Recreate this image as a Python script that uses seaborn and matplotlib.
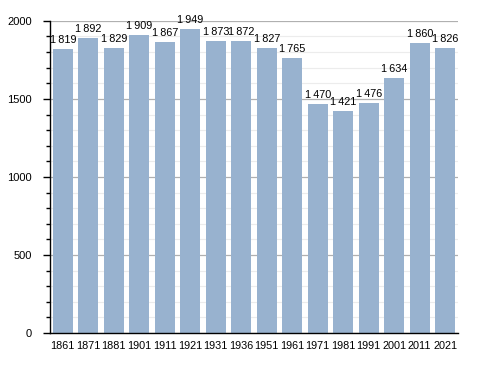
import matplotlib
matplotlib.use('Agg')
import matplotlib.pyplot as plt
from matplotlib.ticker import MultipleLocator
import seaborn as sns
import pandas as pd

# census years and population
years = ['1861', '1871', '1881', '1901', '1911', '1921', '1931', '1936',
         '1951', '1961', '1971', '1981', '1991', '2001', '2011', '2021']
population = [1819, 1892, 1829, 1909, 1867, 1949, 1873, 1872,
              1827, 1765, 1470, 1421, 1476, 1634, 1860, 1826]

df = pd.DataFrame({'year': years, 'pop': population})

sns.set_style('white')
plt.rcParams['font.family'] = ['Liberation Sans', 'DejaVu Sans']
plt.rcParams['text.color'] = 'black'
plt.rcParams['xtick.color'] = 'black'
plt.rcParams['ytick.color'] = 'black'

fig = plt.figure(figsize=(4.88, 3.73), dpi=100)
ax = fig.add_axes([0.1025, 0.107, 0.836, 0.837])

sns.barplot(data=df, x='year', y='pop', color='#98b2cf', saturation=1,
            width=0.8, linewidth=0, ax=ax, zorder=2)

ax.set_ylim(0, 2000)
ax.set_xlim(-0.5, len(years) - 0.5)
ax.yaxis.set_major_locator(MultipleLocator(500))
ax.yaxis.set_minor_locator(MultipleLocator(100))
ax.grid(axis='y', which='major', color='#b0b0b0', linewidth=0.9)
ax.grid(axis='y', which='minor', color='#ececec', linewidth=0.8)
ax.set_axisbelow(True)

for s in ['top', 'right']:
    ax.spines[s].set_visible(False)
ax.spines['left'].set_color('black')
ax.spines['bottom'].set_color('black')
ax.spines['left'].set_linewidth(1)
ax.spines['bottom'].set_linewidth(1)

ax.tick_params(axis='y', which='major', left=True, length=5, width=1,
               labelsize=8, pad=8)
ax.tick_params(axis='y', which='minor', left=True, length=3, width=1)
ax.tick_params(axis='x', bottom=False, labelsize=7.8, pad=2)
ax.set_xlabel('')
ax.set_ylabel('')

for i, v in enumerate(population):
    label = f'{v:,}'.replace(',', '\u2009')
    ax.text(i, v + 25, label, ha='center', va='bottom', fontsize=7.8)

fig.savefig('out.png', dpi=100)
